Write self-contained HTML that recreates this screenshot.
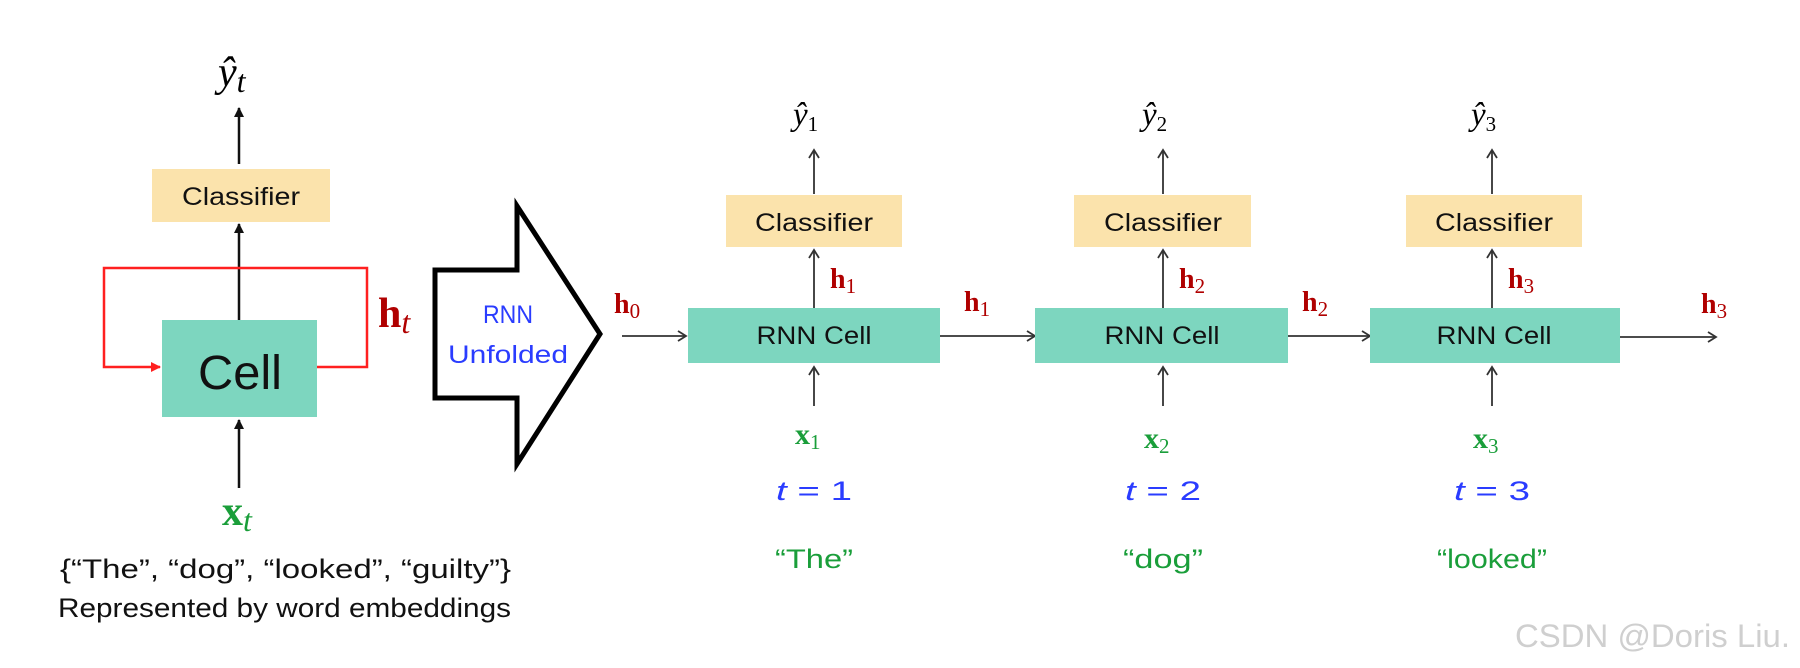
<!DOCTYPE html>
<html><head><meta charset="utf-8"><style>
html,body{margin:0;padding:0;background:#fff;}
svg{display:block;}
.c{font-family:"Liberation Sans",sans-serif;fill:#111;}
.m{font-family:"Liberation Serif",serif;}
.h{font-family:"Liberation Serif",serif;font-weight:bold;fill:#b00000;}
.x{font-family:"Liberation Serif",serif;font-weight:bold;fill:#1a9e3a;}
.t{font-family:"Liberation Sans",sans-serif;fill:#2a3cff;}
.w{font-family:"Liberation Sans",sans-serif;fill:#1a9e3a;}
</style></head><body>
<svg width="1800" height="668" viewBox="0 0 1800 668" xmlns="http://www.w3.org/2000/svg">
<defs>
<marker id="a" markerWidth="12" markerHeight="12" refX="10" refY="6" orient="auto" markerUnits="userSpaceOnUse">
<path d="M2,1 L10,6 L2,11" fill="none" stroke="#333" stroke-width="1.8"/></marker>
<marker id="b" markerWidth="10" markerHeight="10" refX="9" refY="5" orient="auto" markerUnits="userSpaceOnUse">
<path d="M0,0 L10,5 L0,10 z" fill="#111"/></marker>
<marker id="r" markerWidth="10" markerHeight="10" refX="9" refY="5" orient="auto" markerUnits="userSpaceOnUse">
<path d="M0,0 L10,5 L0,10 z" fill="#ff2020"/></marker>
</defs>

<!-- Left folded -->
<text x="218" y="86" class="m" font-size="42" font-style="italic">ŷ<tspan font-size="32" dy="6">t</tspan></text>
<line x1="239" y1="164" x2="239" y2="108" stroke="#111" stroke-width="2.5" marker-end="url(#b)"/>
<rect x="152" y="169" width="178" height="53" fill="#fbe3ac"/>
<text x="241" y="205" class="c" font-size="25" text-anchor="middle" textLength="118" lengthAdjust="spacingAndGlyphs">Classifier</text>
<line x1="239" y1="320" x2="239" y2="224" stroke="#111" stroke-width="2.5" marker-end="url(#b)"/>
<polyline points="317,367 367,367 367,268 104,268 104,367 160,367" fill="none" stroke="#ff2020" stroke-width="2.5" marker-end="url(#r)"/>
<rect x="162" y="320" width="155" height="97" fill="#7dd6bf"/>
<text x="240" y="389" class="c" font-size="48" text-anchor="middle" textLength="84" lengthAdjust="spacingAndGlyphs">Cell</text>
<text x="378" y="327" class="h" font-size="42">h<tspan font-style="italic" font-weight="normal" font-size="32" dy="6">t</tspan></text>
<line x1="239" y1="488" x2="239" y2="420" stroke="#111" stroke-width="2.5" marker-end="url(#b)"/>
<text x="222" y="525" class="x" font-size="42">x<tspan font-style="italic" font-weight="normal" font-size="32" dy="6">t</tspan></text>
<text x="60" y="578" class="c" font-size="27" textLength="451" lengthAdjust="spacingAndGlyphs">{“The”, “dog”, “looked”, “guilty”}</text>
<text x="58" y="617" class="c" font-size="27" textLength="453" lengthAdjust="spacingAndGlyphs">Represented by word embeddings</text>

<!-- Big arrow -->
<polygon points="435,270 517,270 517,206 600,334 517,464 517,398 435,398" fill="#fff" stroke="#000" stroke-width="5" stroke-linejoin="miter"/>
<text x="508" y="323" class="t" font-size="25" text-anchor="middle" textLength="50" lengthAdjust="spacingAndGlyphs">RNN</text>
<text x="508" y="363" class="t" font-size="25" text-anchor="middle" textLength="120" lengthAdjust="spacingAndGlyphs">Unfolded</text>

<!-- h0 -->
<text x="614" y="313" class="h" font-size="28">h<tspan font-weight="normal" font-size="21" dy="5">0</tspan></text>
<line x1="622" y1="336" x2="686" y2="336" stroke="#333" stroke-width="1.8" marker-end="url(#a)"/>

<!-- Step 1 -->
<text x="793" y="125" class="m" font-size="33" font-style="italic">ŷ<tspan font-style="normal" font-size="21" dy="6">1</tspan></text>
<line x1="814" y1="194" x2="814" y2="150" stroke="#333" stroke-width="1.8" marker-end="url(#a)"/>
<rect x="726" y="195" width="176" height="52" fill="#fbe3ac"/>
<text x="814" y="231" class="c" font-size="25" text-anchor="middle" textLength="118" lengthAdjust="spacingAndGlyphs">Classifier</text>
<line x1="814" y1="308" x2="814" y2="250" stroke="#333" stroke-width="1.8" marker-end="url(#a)"/>
<text x="830" y="288" class="h" font-size="28">h<tspan font-weight="normal" font-size="21" dy="5">1</tspan></text>
<rect x="688" y="308" width="252" height="55" fill="#7dd6bf"/>
<text x="814" y="344" class="c" font-size="25" text-anchor="middle" textLength="115" lengthAdjust="spacingAndGlyphs">RNN Cell</text>
<line x1="814" y1="406" x2="814" y2="367" stroke="#333" stroke-width="1.8" marker-end="url(#a)"/>
<text x="795" y="444" class="x" font-size="30">x<tspan font-weight="normal" font-size="21" dy="5">1</tspan></text>
<text x="814" y="500" class="t" font-size="27" text-anchor="middle" textLength="76" lengthAdjust="spacingAndGlyphs"><tspan font-style="italic">t</tspan> = 1</text>
<text x="814" y="568" class="w" font-size="27" text-anchor="middle" textLength="78" lengthAdjust="spacingAndGlyphs">“The”</text>

<text x="964" y="311" class="h" font-size="28">h<tspan font-weight="normal" font-size="21" dy="5">1</tspan></text>
<line x1="940" y1="336" x2="1035" y2="336" stroke="#333" stroke-width="1.8" marker-end="url(#a)"/>

<!-- Step 2 -->
<text x="1142" y="125" class="m" font-size="33" font-style="italic">ŷ<tspan font-style="normal" font-size="21" dy="6">2</tspan></text>
<line x1="1163" y1="194" x2="1163" y2="150" stroke="#333" stroke-width="1.8" marker-end="url(#a)"/>
<rect x="1074" y="195" width="177" height="52" fill="#fbe3ac"/>
<text x="1163" y="231" class="c" font-size="25" text-anchor="middle" textLength="118" lengthAdjust="spacingAndGlyphs">Classifier</text>
<line x1="1163" y1="308" x2="1163" y2="250" stroke="#333" stroke-width="1.8" marker-end="url(#a)"/>
<text x="1179" y="288" class="h" font-size="28">h<tspan font-weight="normal" font-size="21" dy="5">2</tspan></text>
<rect x="1035" y="308" width="253" height="55" fill="#7dd6bf"/>
<text x="1162" y="344" class="c" font-size="25" text-anchor="middle" textLength="115" lengthAdjust="spacingAndGlyphs">RNN Cell</text>
<line x1="1163" y1="406" x2="1163" y2="367" stroke="#333" stroke-width="1.8" marker-end="url(#a)"/>
<text x="1144" y="448" class="x" font-size="30">x<tspan font-weight="normal" font-size="21" dy="5">2</tspan></text>
<text x="1163" y="500" class="t" font-size="27" text-anchor="middle" textLength="76" lengthAdjust="spacingAndGlyphs"><tspan font-style="italic">t</tspan> = 2</text>
<text x="1163" y="568" class="w" font-size="27" text-anchor="middle" textLength="80" lengthAdjust="spacingAndGlyphs">“dog”</text>

<text x="1302" y="311" class="h" font-size="28">h<tspan font-weight="normal" font-size="21" dy="5">2</tspan></text>
<line x1="1288" y1="336" x2="1370" y2="336" stroke="#333" stroke-width="1.8" marker-end="url(#a)"/>

<!-- Step 3 -->
<text x="1471" y="125" class="m" font-size="33" font-style="italic">ŷ<tspan font-style="normal" font-size="21" dy="6">3</tspan></text>
<line x1="1492" y1="194" x2="1492" y2="150" stroke="#333" stroke-width="1.8" marker-end="url(#a)"/>
<rect x="1406" y="195" width="176" height="52" fill="#fbe3ac"/>
<text x="1494" y="231" class="c" font-size="25" text-anchor="middle" textLength="118" lengthAdjust="spacingAndGlyphs">Classifier</text>
<line x1="1492" y1="308" x2="1492" y2="250" stroke="#333" stroke-width="1.8" marker-end="url(#a)"/>
<text x="1508" y="288" class="h" font-size="28">h<tspan font-weight="normal" font-size="21" dy="5">3</tspan></text>
<rect x="1370" y="308" width="250" height="55" fill="#7dd6bf"/>
<text x="1494" y="344" class="c" font-size="25" text-anchor="middle" textLength="115" lengthAdjust="spacingAndGlyphs">RNN Cell</text>
<line x1="1492" y1="406" x2="1492" y2="367" stroke="#333" stroke-width="1.8" marker-end="url(#a)"/>
<text x="1473" y="448" class="x" font-size="30">x<tspan font-weight="normal" font-size="21" dy="5">3</tspan></text>
<text x="1492" y="500" class="t" font-size="27" text-anchor="middle" textLength="76" lengthAdjust="spacingAndGlyphs"><tspan font-style="italic">t</tspan> = 3</text>
<text x="1492" y="568" class="w" font-size="27" text-anchor="middle" textLength="110" lengthAdjust="spacingAndGlyphs">“looked”</text>

<text x="1701" y="313" class="h" font-size="28">h<tspan font-weight="normal" font-size="21" dy="5">3</tspan></text>
<line x1="1620" y1="337" x2="1716" y2="337" stroke="#333" stroke-width="1.8" marker-end="url(#a)"/>

<text x="1515" y="647" font-family="Liberation Sans,sans-serif" font-size="32" fill="#cfcfcf" textLength="275" lengthAdjust="spacingAndGlyphs">CSDN @Doris Liu.</text>
</svg>
</body></html>
